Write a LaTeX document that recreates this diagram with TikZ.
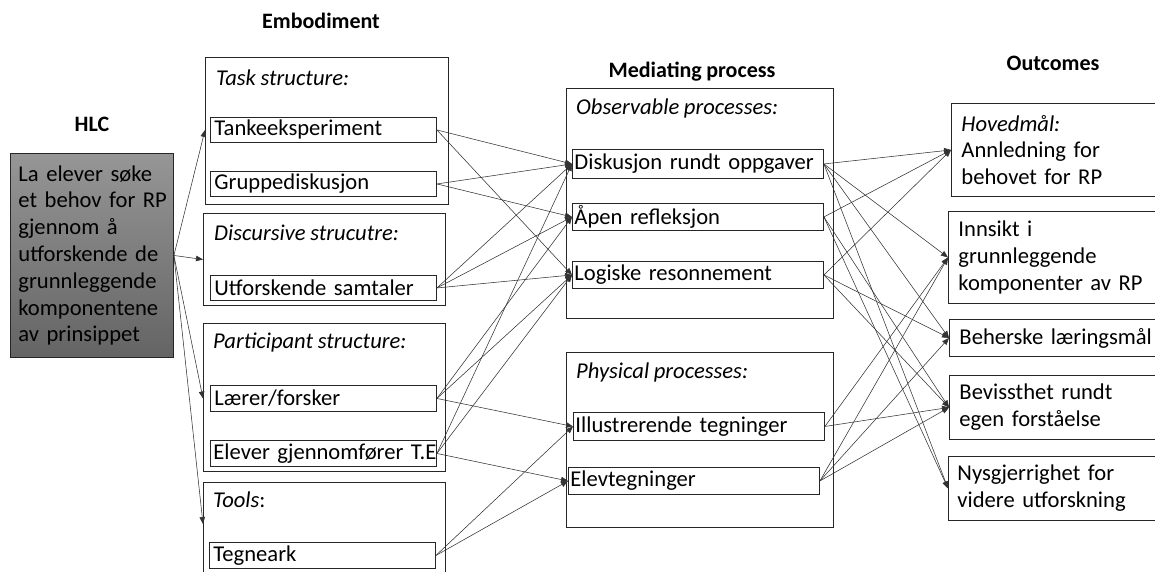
\documentclass[tikz,border=0pt]{standalone}
\usepackage{fontspec}
\setmainfont{Carlito}[WordSpace=0.9]
\usetikzlibrary{arrows.meta}
\newcommand\bfnt{\fontsize{22.6}{26.8}\selectfont}
\newcommand\hfnt{\fontsize{22}{26}\selectfont\bfseries}
\begin{document}
\begin{tikzpicture}[x=1pt,y=-1pt,
  outer/.style={draw=black!85, line width=0.9pt, anchor=north west, inner sep=0pt},
  inbox/.style={draw=black!85, line width=0.9pt, anchor=north west, inner xsep=4pt, inner ysep=0pt, align=left, font=\bfnt},
  outbox/.style={draw=black!85, line width=0.9pt, anchor=north west, inner xsep=10pt, inner ysep=0pt, align=left, text width=205pt, font=\bfnt},
  ttl/.style={anchor=west, inner sep=0pt, font=\bfnt\itshape},
  head/.style={inner sep=0pt, font=\hfnt},
  conn/.style={draw=black!80, line width=0.55pt, -{Triangle[length=7pt,width=5.5pt]}}]
\useasboundingbox (0,0) rectangle (1155,571);

% headings
\node[head] (hhlc) at (92,124) {HLC};
\node[head] (hemb) at (321,21) {Embodiment};
\node[head] (hmed) at (692,72) {Mediating process};
\node[head] (hout) at (1053,63) {Outcomes};

% HLC box
\node[draw=black!85, line width=0.9pt, anchor=north west, minimum width=163pt, minimum height=204pt,
  top color={rgb,255:red,150;green,150;blue,150}, bottom color={rgb,255:red,100;green,100;blue,100},
  inner xsep=8pt, text width=147pt, align=left, font=\bfnt] (hlc) at (10,153)
  {\mbox{La elever søke}\\\mbox{et behov for RP}\\\mbox{gjennom å}\\\mbox{utforskende de}\\\mbox{grunnleggende}\\\mbox{komponentene}\\\mbox{av prinsippet}};

% embodiment outer boxes
\node[outer, minimum width=243pt, minimum height=147pt] (task) at (205,57) {};
\node[outer, minimum width=242pt, minimum height=92pt] (disc) at (203,213) {};
\node[outer, minimum width=242pt, minimum height=148pt] (part) at (203,323) {};
\node[outer, minimum width=242pt, minimum height=100pt] (tools) at (203,482) {};
\node[ttl] (ttask) at (216,78) {Task structure:};
\node[ttl] (tdisc) at (214,233) {Discursive strucutre:};
\node[ttl] (tpart) at (213,343) {Participant structure:};
\node[ttl] (ttools) at (213,500) {Tools\upshape:};

% embodiment inner boxes
\node[inbox, text width=218pt, minimum height=25pt] (tanke) at (210,117) {\mbox{Tankeeksperiment}};
\node[inbox, text width=218pt, minimum height=25pt] (gruppe) at (210,171) {\mbox{Gruppediskusjon}};
\node[inbox, text width=218pt, minimum height=25pt] (utfor) at (210,275) {\mbox{Utforskende samtaler}};
\node[inbox, text width=218pt, minimum height=26pt] (laerer) at (210,385) {\mbox{Lærer/forsker}};
\node[inbox, minimum height=26pt, inner xsep=3pt, text width=220pt] (elever) at (210,440) {\mbox{Elever gjennomfører T.E}};
\node[inbox, text width=218pt, minimum height=26pt] (tegn) at (209,542) {\mbox{Tegneark}};

% mediating outer boxes
\node[outer, minimum width=267pt, minimum height=230pt] (obs) at (566,88) {};
\node[outer, minimum width=267pt, minimum height=175pt] (phys) at (566,352) {};
\node[ttl] (tobs) at (576,108) {Observable processes:};
\node[ttl] (tphys) at (576,372) {Physical processes:};

% mediating inner boxes
\node[inbox, inner xsep=2pt, text width=247pt, minimum height=29pt] (disk) at (572,149) {\mbox{Diskusjon rundt oppgaver}};
\node[inbox, inner xsep=2pt, text width=247pt, minimum height=27pt] (apen) at (572,203) {\mbox{Åpen refleksjon}};
\node[inbox, inner xsep=2pt, text width=247pt, minimum height=27pt] (logisk) at (572,261) {\mbox{Logiske resonnement}};
\node[inbox, inner xsep=2pt, text width=247pt, minimum height=28pt] (illus) at (573,412) {\mbox{Illustrerende tegninger}};
\node[inbox, inner xsep=2pt, text width=247pt, minimum height=27pt] (elevt) at (568,467) {\mbox{Elevtegninger}};

% outcomes
\node[outbox, minimum height=93pt] (hoved) at (951,103) {\textit{Hovedmål:}\\Annledning for\\behovet for RP};
\node[outbox, minimum height=92pt] (innsikt) at (948,211) {Innsikt i\\grunnleggende\\komponenter av RP};
\node[outbox, minimum height=37pt] (behersk) at (949,319) {\mbox{Beherske læringsmål}};
\node[outbox, minimum height=64pt] (bevis) at (949,375) {Bevissthet rundt\\egen forståelse};
\node[outbox, minimum height=64pt, inner xsep=9pt] (nysg) at (948,456) {Nysgjerrighet for\\videre utforskning};

% HLC arrows
\draw[conn] (hlc.east) -- (task.west |- tanke.west);
\draw[conn] (hlc.east) -- (disc.west);
\draw[conn] (hlc.east) -- (part.west |- laerer.west);
\draw[conn] (hlc.east) -- ([yshift=-42pt]tools.north west);

% embodiment -> mediating
\draw[conn] (tanke.east) -- (disk.west);
\draw[conn] (tanke.east) -- (logisk.west);
\draw[conn] (gruppe.east) -- (disk.west);
\draw[conn] (gruppe.east) -- (apen.west);
\draw[conn] (utfor.east) -- (disk.west);
\draw[conn] (utfor.east) -- (apen.west);
\draw[conn] (utfor.east) -- (logisk.west);
\draw[conn] (laerer.east) -- (apen.west);
\draw[conn] (laerer.east) -- (logisk.west);
\draw[conn] (laerer.east) -- (illus.west);
\draw[conn] (elever.east) -- (disk.west);
\draw[conn] (elever.east) -- (logisk.west);
\draw[conn] (elever.east) -- (elevt.west);
\draw[conn] (tegn.east) -- (illus.west);
\draw[conn] (tegn.east) -- (elevt.west);

% mediating -> outcomes
\draw[conn] (disk.east) -- (hoved.west);
\draw[conn] (disk.east) -- (innsikt.west);
\draw[conn] (disk.east) -- (behersk.west);
\draw[conn] (disk.east) -- (nysg.west);
\draw[conn] (apen.east) -- (hoved.west);
\draw[conn] (apen.east) -- (bevis.west);
\draw[conn] (apen.east) -- (nysg.west);
\draw[conn] (logisk.east) -- (hoved.west);
\draw[conn] (logisk.east) -- (behersk.west);
\draw[conn] (logisk.east) -- (bevis.west);
\draw[conn] (illus.east) -- (innsikt.west);
\draw[conn] (illus.east) -- (bevis.west);
\draw[conn] (elevt.east) -- (innsikt.west);
\draw[conn] (elevt.east) -- (behersk.west);
\draw[conn] (elevt.east) -- (bevis.west);
\end{tikzpicture}
\end{document}
